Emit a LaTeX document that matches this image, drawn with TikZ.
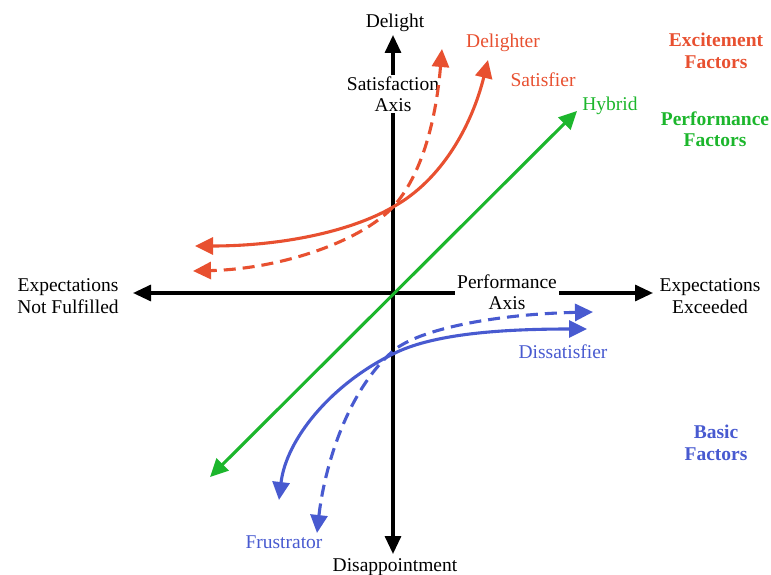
\documentclass[tikz,border=0pt]{standalone}
\usepackage{fontspec}
\setmainfont{Liberation Serif}
\usetikzlibrary{arrows.meta}
\definecolor{kred}{RGB}{232,80,48}
\definecolor{kgreen}{RGB}{28,182,44}
\definecolor{kblue}{RGB}{72,90,208}
\begin{document}
\begin{tikzpicture}[x=1pt,y=-1pt,
  txt/.style={font=\fontsize{19.5}{21.5}\selectfont, inner sep=0pt},
  lab/.style={txt, align=center},
  bold/.style={font=\fontsize{19.5}{21.5}\selectfont\bfseries},
  axisline/.style={line width=3.2pt, black, {Triangle[length=18pt,width=16pt]}-{Triangle[length=18pt,width=16pt]}},
  curve/.style={line width=3.1pt, {Triangle[length=18pt,width=17pt]}-{Triangle[length=18pt,width=17pt]}},
  dashcurve/.style={curve, dash pattern=on 12pt off 7pt}]
\useasboundingbox (0,0) rectangle (771,575);

% axis end points
\coordinate (top) at (393,35);
\coordinate (bot) at (393,554);
\coordinate (lft) at (133,293);
\coordinate (rgt) at (653,293);

% axes
\draw[axisline] (top) -- (bot);
\draw[axisline] (lft) -- (rgt);

% axis labels
\node[txt, anchor=base] (delight) at (395,28) {Delight};
\node[txt, anchor=base] (disap) at (395,571) {Disappointment};
\node[lab, fill=white, inner sep=1pt] (saxis) at (393,94) {Satisfaction\\Axis};
\node[lab, fill=white, inner xsep=2pt, inner ysep=0pt] (paxis) at (507,292) {Performance\\Axis};
\node[lab] (notful) at (68,296) {Expectations\\Not Fulfilled};
\node[lab] (exceed) at (710,296) {Expectations\\Exceeded};

% hybrid
\coordinate (gA) at (210,477);
\coordinate (gB) at (577,111);
\draw[curve, kgreen] (gA) -- (gB);

% satisfier (solid red)
\coordinate (sT) at (488,60);
\coordinate (sM) at (393,207);
\coordinate (sL) at (195,246);
\draw[curve, kred] (sT) .. controls (472,125) and (442,180) .. (sM)
  .. controls (350,232) and (280,246) .. (sL);

% delighter (dashed red)
\coordinate (dT) at (442,49);
\coordinate (dL) at (193,271);
\draw[dashcurve, kred] (dT) .. controls (436,120) and (422,175) .. (sM)
  .. controls (360,242) and (280,269) .. (dL);

% dissatisfier (solid blue)
\coordinate (bR) at (587,329);
\coordinate (bM) at (393,354);
\coordinate (bB) at (279,500);
\draw[curve, kblue] (bR) .. controls (500,329) and (432,334) .. (bM)
  .. controls (330,385) and (286,440) .. (bB);

% frustrator (dashed blue)
\coordinate (fR) at (593,312);
\coordinate (fM) at (393,351);
\coordinate (fB) at (317,533);
\draw[dashcurve, kblue] (fR) .. controls (500,314) and (420,328) .. (fM)
  .. controls (346,392) and (324,470) .. (fB);

% curve labels
\node[txt, anchor=base, text=kred] (ldel) at (503,48) {Delighter};
\node[txt, anchor=base, text=kred] (lsat) at (543,87) {Satisfier};
\node[txt, anchor=base, text=kgreen] (lhyb) at (610,111) {Hybrid};
\node[txt, anchor=base, text=kblue] (ldis) at (563,358) {Dissatisfier};
\node[txt, anchor=base, text=kblue] (lfru) at (284,548) {Frustrator};

% factor labels
\node[lab, bold, text=kred] (exc) at (716,51) {Excitement\\Factors};
\node[lab, bold, text=kgreen] (perf) at (715,129) {Performance\\Factors};
\node[lab, bold, text=kblue] (basic) at (716,443) {Basic\\Factors};
\end{tikzpicture}
\end{document}
